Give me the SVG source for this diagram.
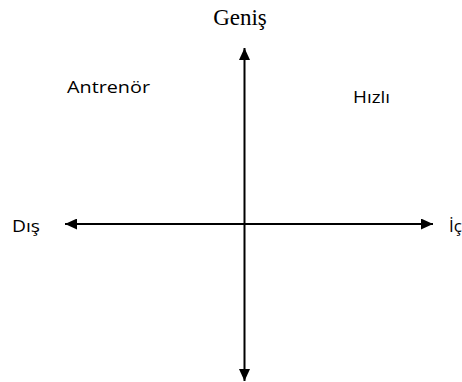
<svg xmlns="http://www.w3.org/2000/svg" width="462" height="382" viewBox="0 0 462 382">
<defs>
<style>
.ax{stroke:#000;stroke-width:2;fill:none}
.sans{font-family:"Open Sans","Liberation Sans",sans-serif;font-size:17px;fill:#000}
.serif{font-family:"Liberation Serif","Times New Roman",serif;font-size:23px;fill:#000}
</style>
<marker id="ah" viewBox="0 0 12 11" refX="12" refY="5.5" markerWidth="12" markerHeight="11" markerUnits="userSpaceOnUse" orient="auto-start-reverse">
<path d="M0,0 L12,5.5 L0,11 Z" fill="#000"/>
</marker>
</defs>
<rect width="462" height="382" fill="#fff"/>
<g id="connectors">
<line class="ax" x1="244.5" y1="48" x2="244.5" y2="381" marker-start="url(#ah)" marker-end="url(#ah)"/>
<line class="ax" x1="65" y1="224" x2="433" y2="224" marker-start="url(#ah)" marker-end="url(#ah)"/>
</g>
<g id="genis"><text class="serif" x="240" y="25" text-anchor="middle">Geniş</text></g>
<g id="antrenor"><text class="sans" x="67" y="93" textLength="83" lengthAdjust="spacingAndGlyphs">Antrenör</text></g>
<g id="hizli"><text class="sans" x="353" y="103" textLength="37" lengthAdjust="spacingAndGlyphs">Hızlı</text></g>
<g id="dis"><text class="sans" x="12" y="232" textLength="28" lengthAdjust="spacingAndGlyphs">Dış</text></g>
<g id="ic"><text class="sans" x="449" y="232">İç</text></g>
</svg>
